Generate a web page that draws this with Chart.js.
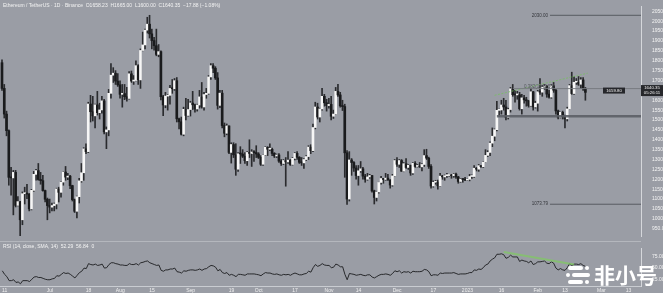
<!DOCTYPE html>
<html><head><meta charset="utf-8">
<script src="https://cdn.jsdelivr.net/npm/chart.js@4.4.0/dist/chart.umd.min.js"></script>
<style>
html,body{margin:0;padding:0;background:#9a9da5;width:663px;height:293px;overflow:hidden;font-family:"Liberation Sans",Arial,sans-serif;}
#wrap{position:relative;width:663px;height:293px;}
#c1{position:absolute;left:0;top:0;}
#c2{position:absolute;left:0;top:242px;}
#sep{position:absolute;left:0;top:241px;width:641px;height:1px;background:#b4b7bd;}
.txt{position:absolute;font-size:5px;color:#f3f3f3;white-space:nowrap;line-height:6px;}
#wm{position:absolute;left:565px;top:262px;width:95px;height:28px;}
#wm .p{position:absolute;height:4px;background:#fff;border-radius:2px;}
#wm .d{position:absolute;width:4px;height:4px;background:#fff;border-radius:2px;}
#wm span{position:absolute;left:29px;top:-2px;font-family:"Noto Sans CJK SC";font-weight:700;font-size:21px;color:#fff;line-height:28px;letter-spacing:0px;}
</style></head>
<body><div id="wrap">
<canvas id="c1" width="663" height="242"></canvas>
<canvas id="c2" width="663" height="51"></canvas>
<div id="sep"></div>
<div class="txt" style="left:3px;top:2px;">Ethereum / TetherUS · 1D · Binance &nbsp;O1658.23 &nbsp;H1665.00 &nbsp;L1600.00 &nbsp;C1640.35 &nbsp;−17.88 (−1.08%)</div>
<div class="txt" style="left:3px;top:243px;">RSI (14, close, SMA, 14) &nbsp;52.29 &nbsp;56.84 &nbsp;0</div>
<div id="wm">
 <div class="p" style="left:3px;top:4px;width:15px;"></div><div class="d" style="left:20px;top:4px;"></div>
 <div class="d" style="left:1px;top:11px;"></div><div class="p" style="left:7px;top:11px;width:18px;"></div>
 <div class="p" style="left:3px;top:18px;width:15px;"></div><div class="d" style="left:20px;top:18px;"></div>
 <span>非小号</span>
</div>
</div>
<script>
// Daily candles, index 0 = 2022-06-10 ... index 257 = 2023-02-22
const opens = [
1790,1660,1530,1446,1210,1207,1235,1068,1087,995,1127,1127,1125,1050,1144,1225,1244,1199,1193,1143,1099,
1067,1059,1067,1075,1151,1134,1186,1237,1211,1216,1168,1097,1038,1112,1192,1233,1354,1340,1581,1542,1521,1577,1537,1551,1597,1440,1450,1635,1727,1737,1697,
1678,1630,1634,1618,1609,1734,1697,1700,1775,1703,1852,1880,1955,1985,1936,1902,1876,1832,1846,1618,1576,1621,1625,1660,1658,1699,1506,1491,1428,1554,1523,
1553,1586,1577,1556,1576,1617,1566,1629,1635,1718,1775,1762,1713,1574,1636,1472,1433,1470,1336,1376,1324,1251,1329,1328,1317,1294,1336,1331,1338,1335,
1328,1311,1276,1323,1362,1352,1352,1331,1318,1323,1292,1280,1295,1288,1297,1275,1306,1331,1311,1286,1283,1300,1315,1363,1345,1462,1566,1515,1556,1620,1587,
1573,1579,1519,1530,1645,1627,1572,1568,1334,1100,1298,1285,1257,1219,1243,1253,1216,1200,1212,1219,1141,1108,1136,1184,1204,1199,1206,1196,1171,1217,
1295,1276,1295,1241,1279,1260,1271,1232,1281,1265,1265,1263,1275,1320,1307,1265,1166,1185,1186,1167,1216,1212,1218,1219,1221,1218,1226,1212,1189,1201,1199,
1196,1200,1214,1214,1256,1251,1269,1264,1287,1321,1336,1383,1418,1451,1549,1551,1576,1566,1513,1553,1658,1628,1627,1628,1557,1612,1602,1597,1573,1643,1566,
1585,1643,1641,1666,1670,1631,1616,1673,1651,1546,1514,1539,1516,1506,1556,1674,1634,1691,1692,1681,1703,1658];
const highs = [
1805,1680,1545,1450,1260,1245,1245,1112,1088,1136,1160,1175,1128,1149,1240,1250,1280,1235,1220,1145,1105,
1100,1080,1080,1155,1160,1190,1240,1265,1230,1220,1170,1100,1115,1205,1280,1360,1380,1590,1625,1620,1580,1645,1585,1620,1605,1465,1655,1785,1765,1750,1735,
1698,1680,1680,1665,1745,1748,1725,1800,1780,1860,1945,1960,2020,2030,1960,1918,1960,1882,1850,1625,1640,1630,1675,1705,1710,1715,1510,1515,1565,1610,1605,
1595,1645,1580,1580,1650,1690,1640,1660,1725,1785,1785,1770,1740,1650,1650,1485,1480,1470,1385,1385,1380,1335,1365,1350,1335,1340,1400,1350,1345,1370,
1335,1320,1325,1365,1365,1380,1358,1335,1328,1330,1300,1300,1310,1340,1300,1310,1335,1340,1315,1310,1305,1320,1370,1375,1480,1590,1585,1560,1660,1630,1605,
1610,1620,1550,1665,1680,1640,1600,1580,1345,1340,1305,1290,1270,1270,1290,1260,1225,1230,1225,1220,1145,1140,1185,1215,1205,1230,1225,1198,1225,1300,
1310,1300,1300,1285,1305,1275,1272,1285,1290,1275,1285,1280,1350,1352,1312,1275,1192,1195,1196,1230,1220,1222,1230,1225,1225,1230,1232,1215,1205,1202,1210,
1203,1225,1222,1270,1260,1275,1270,1290,1350,1345,1390,1460,1455,1595,1555,1600,1610,1600,1560,1665,1680,1650,1645,1640,1630,1625,1615,1600,1660,1645,1595,
1650,1710,1675,1680,1675,1650,1680,1690,1655,1550,1540,1545,1525,1565,1680,1742,1720,1710,1720,1715,1715,1665];
const lows = [
1650,1510,1420,1170,1120,1020,1060,1065,880,970,1075,1102,1040,1045,1139,1195,1195,1175,1140,1085,995,
1030,1040,1040,1050,1085,1110,1170,1195,1198,1152,1090,1032,1005,1080,1185,1195,1330,1335,1490,1495,1460,1525,1505,1535,1430,1355,1420,1610,1690,1680,1670,
1610,1565,1603,1595,1606,1690,1680,1698,1680,1660,1850,1860,1940,1915,1860,1853,1825,1820,1602,1522,1562,1550,1580,1635,1650,1490,1455,1424,1420,1500,1520,
1520,1553,1540,1545,1560,1560,1550,1610,1630,1705,1740,1705,1555,1562,1460,1415,1425,1330,1282,1310,1220,1240,1280,1310,1280,1270,1310,1265,1290,1310,
1305,1270,1270,1320,1320,1345,1320,1310,1310,1285,1270,1275,1165,1280,1270,1272,1298,1300,1280,1270,1255,1295,1300,1330,1340,1455,1505,1490,1550,1570,1545,
1560,1500,1508,1528,1620,1565,1548,1210,1073,1090,1220,1240,1200,1170,1235,1200,1185,1195,1205,1135,1075,1090,1130,1175,1180,1195,1195,1155,1165,1215,
1265,1260,1240,1238,1255,1250,1220,1225,1260,1262,1260,1242,1265,1300,1255,1155,1160,1175,1150,1165,1200,1195,1210,1215,1205,1210,1205,1180,1185,1185,1193,
1193,1192,1205,1210,1242,1240,1260,1260,1285,1315,1320,1365,1395,1445,1520,1530,1550,1500,1505,1540,1620,1590,1605,1550,1530,1585,1570,1565,1570,1550,1560,
1545,1630,1620,1655,1615,1610,1610,1640,1530,1505,1510,1505,1460,1495,1555,1630,1630,1680,1675,1660,1650,1600];
const closes = [
1660,1530,1446,1210,1207,1235,1068,1087,995,1127,1127,1125,1050,1144,1225,1244,1199,1193,1143,1099,1067,
1059,1067,1075,1151,1134,1186,1237,1211,1216,1168,1097,1038,1112,1192,1233,1354,1340,1581,1542,1521,1577,1537,1551,1597,1440,1450,1635,1727,1737,1697,1678,
1630,1634,1618,1609,1734,1697,1700,1775,1703,1852,1880,1955,1985,1936,1902,1876,1832,1846,1618,1576,1621,1625,1660,1658,1699,1506,1491,1428,1554,1523,1553,
1586,1577,1556,1576,1617,1566,1629,1635,1718,1775,1762,1713,1574,1636,1472,1433,1470,1336,1376,1324,1251,1329,1328,1317,1294,1336,1331,1338,1335,1328,
1311,1276,1323,1362,1352,1352,1331,1318,1323,1292,1280,1295,1288,1297,1275,1306,1331,1311,1286,1283,1300,1315,1363,1345,1462,1566,1515,1556,1620,1587,1573,
1579,1519,1530,1645,1627,1572,1568,1334,1100,1298,1285,1257,1219,1243,1253,1216,1200,1212,1219,1141,1108,1136,1184,1204,1199,1206,1196,1171,1217,1295,
1276,1295,1241,1279,1260,1271,1232,1281,1265,1265,1263,1275,1320,1307,1265,1166,1185,1186,1167,1216,1212,1218,1219,1221,1218,1226,1212,1189,1201,1199,1196,
1200,1214,1214,1256,1251,1269,1264,1287,1321,1336,1383,1418,1451,1549,1551,1576,1566,1513,1553,1658,1628,1627,1628,1557,1612,1602,1597,1573,1643,1566,1585,
1643,1641,1666,1670,1631,1616,1673,1651,1546,1514,1539,1516,1506,1556,1674,1634,1691,1692,1681,1703,1658,1640];
const rsi = [
44,36,31,22,22,24,18,19,15,22,22,22,20,25,30,31,29,29,27,25,24,
24,26,27,33,32,36,40,38,39,36,32,28,34,40,43,50,49,60,58,57,59,56,57,59,50,51,58,62,62,60,59,
57,57,56,56,60,58,58,60,57,62,63,65,66,62,60,58,56,57,45,43,46,46,48,48,50,42,41,39,44,43,45,
46,46,45,46,48,45,48,49,53,56,55,52,44,47,40,38,40,34,36,34,31,36,36,35,34,37,37,37,37,36,
35,33,37,40,39,39,37,36,37,35,34,36,35,36,34,37,39,37,35,35,37,38,43,41,51,58,54,56,60,57,56,
56,51,52,59,57,53,53,36,24,38,37,36,34,35,36,34,33,35,35,30,28,31,34,36,36,37,36,34,38,44,
42,44,39,42,41,42,39,43,42,42,42,43,47,46,42,33,35,35,34,39,38,39,39,39,39,40,38,36,37,37,37,
38,40,40,46,45,48,47,51,57,59,66,70,73,81,81,82,80,72,74,79,75,75,75,65,68,66,65,62,66,58,60,
64,64,65,66,61,60,64,61,50,46,49,46,45,51,60,56,59,59,58,60,56,54];

// time-axis tick labels (day index -> text)
const timeTickIdx  = [1,21,38,52,66,83,101,113,129,144,157,174,190,205,220,236,248,264,276];
const timeTickText = ['11','Jul','18','Aug','15','Sep','19','Oct','17','Nov','14','Dec','17','2023','16','Feb','13','Mar','13'];
const priceTicks = [950,1000,1050,1100,1150,1200,1250,1300,1350,1400,1450,1500,1550,1600,1650,1700,1750,1800,1850,1900,1950,2000,2050];
const rsiTicks = [25,50,75];

// drawn levels: [price, start index, label]
const levelPrices = [2030.00, 1073.79, 1659, 1519];
const levelStart  = [241.4, 241.4, 225, 218];
const levelText   = ['2030.00','1073.79','',''];
const trendHigh = [[217,1625],[258,1737]];   // green line over highs
const rsiTrend  = [[221,86],[252,58]];
const lastPrice = 1649;

const XMIN = -0.88, XMAX = 281.5;
const N = closes.length;
const idx = Array.from({length:N},(_, i)=>i);

const wickData = idx.map(i=>({x:i, y:[lows[i], highs[i]]}));
const bodyData = idx.map(i=>({x:i, y:[opens[i], closes[i]]}));
const bodyCol = idx.map(i=> closes[i] >= opens[i] ? '#f6f6f6' : '#1a1b1d');

const levelSets = levelPrices.map((p,k)=>({
  type:'line', data:[{x:levelStart[k], y:p},{x:XMAX, y:p}],
  borderColor: k===3 ? 'rgba(92,95,102,0.9)' : (k===2 ? 'rgba(118,121,128,0.95)' : 'rgba(84,87,94,0.95)'),
  borderWidth: k===3 ? 2.5 : 1, pointRadius:0, order:0, clip:false
}));

const overlay = {
  id:'overlay',
  afterDraw(chart){
    const {ctx, scales:{x,y}} = chart;
    ctx.save();
    ctx.font = '4.5px "Liberation Sans"';
    ctx.fillStyle = '#34363b';
    ctx.textAlign = 'right'; ctx.textBaseline = 'middle';
    levelPrices.forEach((p,k)=>{
      if(!levelText[k]) return;
      ctx.fillText(levelText[k], x.getPixelForValue(levelStart[k]) - 2, y.getPixelForValue(p));
    });
    ctx.textAlign='left';
    ctx.fillStyle='#55585e';
    ctx.fillText('0.382(1640.56)', x.getPixelForValue(230), y.getPixelForValue(1668));
    // price label boxes
    const py = y.getPixelForValue(lastPrice);
    ctx.fillStyle = '#26272b';
    ctx.fillRect(603, py-3, 22, 6);
    ctx.fillRect(641, py-5.5, 22, 11);
    ctx.fillStyle = '#f2f2f2';
    ctx.textAlign='center';
    ctx.font = '4.3px "Liberation Sans"';
    ctx.fillText('1659.80', 614, py);
    ctx.fillText('1640.35', 652, py-2.5);
    ctx.fillText('05:26:11', 652, py+2.5);
    ctx.restore();
  }
};

new Chart(document.getElementById('c1'), {
  type:'bar',
  data:{datasets:[
    ...levelSets,
    {type:'line', data: trendHigh.map(a=>({x:a[0], y:a[1]})), borderColor:'rgba(120,190,100,0.85)', borderWidth:1, borderDash:[2,1.5], pointRadius:0, order:0},
    {label:'body', data: bodyData, backgroundColor: bodyCol, barThickness:2, grouped:false, minBarLength:1, order:1},
    {label:'wick', data: wickData, backgroundColor:'#2a2b2e', barThickness:1, grouped:false, order:2}
  ]},
  options:{
    responsive:false, animation:false, events:[], devicePixelRatio:1,
    layout:{padding:0},
    plugins:{legend:{display:false}, tooltip:{enabled:false}},
    scales:{
      x:{type:'linear', min:XMIN, max:XMAX, display:false, offset:false},
      y:{type:'linear', position:'right', min:913, max:2077, offset:false,
         grid:{display:false}, border:{display:true, color:'#d5d7db', width:1},
         ticks:{font:{size:5, family:'"Liberation Sans"'}, color:'#f4f4f4', padding:3,
                callback:v=>Number(v).toFixed(2)},
         afterBuildTicks:s=>{ s.ticks = priceTicks.map(v=>({value:v})); },
         afterFit:s=>{ s.width = 22; }
      }
    }
  },
  plugins:[overlay]
});

new Chart(document.getElementById('c2'), {
  type:'line',
  data:{datasets:[
    {data: rsiTrend.map(a=>({x:a[0], y:a[1]})), borderColor:'rgba(128,200,100,0.75)', borderWidth:2.2, pointRadius:0},
    {data: rsi.map((v,i)=>({x:i, y:v})), borderColor:'#1b1c1e', borderWidth:0.9, pointRadius:0, tension:0}
  ]},
  options:{
    responsive:false, animation:false, events:[], devicePixelRatio:1,
    layout:{padding:0},
    plugins:{legend:{display:false}, tooltip:{enabled:false}},
    scales:{
      x:{type:'linear', min:XMIN, max:XMAX, offset:false,
         grid:{display:false, drawTicks:false}, border:{display:true, color:'#c9ccd1', width:1},
         ticks:{font:{size:5, family:'"Liberation Sans"'}, color:'#f0f0f0', padding:2, autoSkip:false, maxRotation:0,
                callback:v=>{ const k = timeTickIdx.indexOf(v); return k>=0 ? timeTickText[k] : ''; }},
         afterBuildTicks:s=>{ s.ticks = timeTickIdx.map(v=>({value:v})); },
         afterFit:s=>{ s.height = 7; }
      },
      y:{type:'linear', position:'right', min:10, max:95, offset:false,
         grid:{display:false}, border:{display:true, color:'#d5d7db', width:1},
         ticks:{font:{size:5, family:'"Liberation Sans"'}, color:'#f4f4f4', padding:3,
                callback:v=>Number(v).toFixed(2)},
         afterBuildTicks:s=>{ s.ticks = rsiTicks.map(v=>({value:v})); },
         afterFit:s=>{ s.width = 22; }
      }
    }
  }
});
</script>
</body></html>
